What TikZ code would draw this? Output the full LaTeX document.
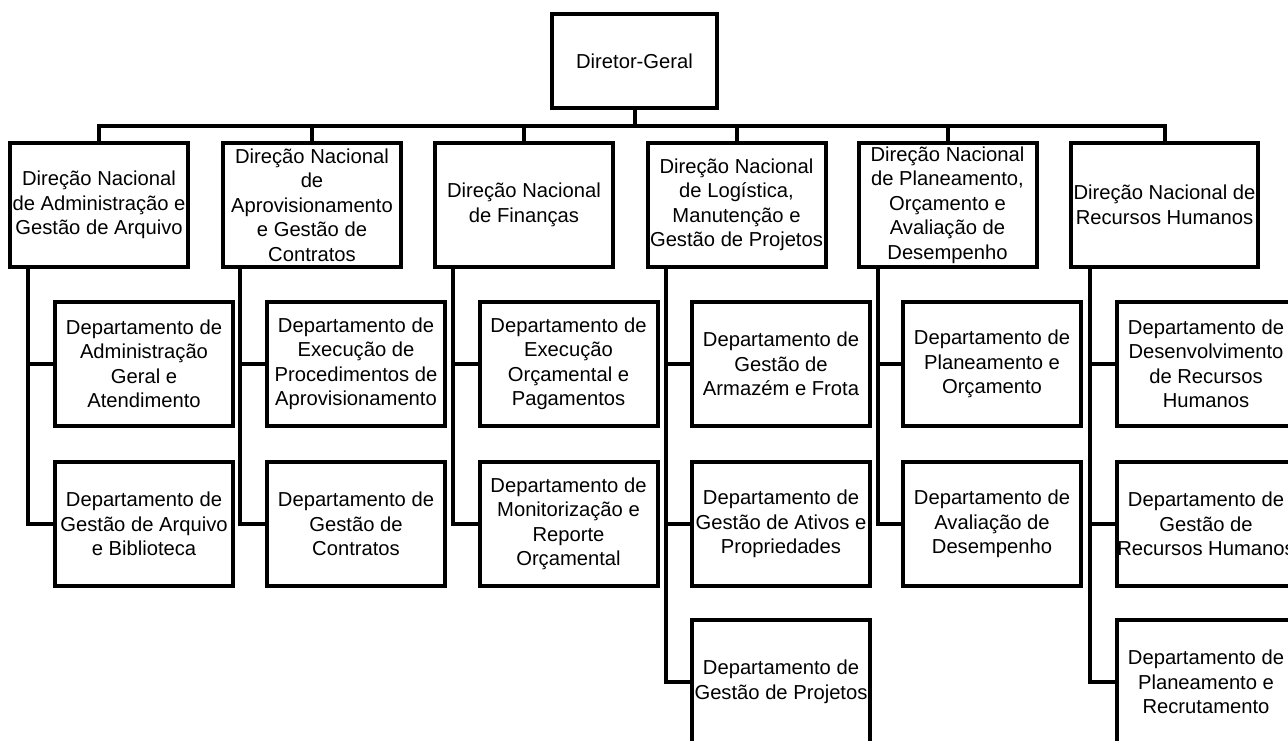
\documentclass[tikz,border=0pt]{standalone}
\usepackage{fontspec}
\setmainfont{Liberation Sans}
\begin{document}
\begin{tikzpicture}[x=1pt,y=-1pt,
  box/.style={draw, line width=4pt, inner sep=0pt, outer sep=0pt,
    minimum width=178pt, minimum height=124pt, align=center,
    font=\fontsize{20.2}{24.5}\selectfont},
  link/.style={line width=4pt, line join=miter}]
\useasboundingbox (0,0) rectangle (1288,740);
\clip (0,0) rectangle (1288,740);

% top level
\node[box, minimum width=165pt, minimum height=94pt] (dg) at (634.5,61) {Diretor-Geral};

% national directorates
\node[box] (b1) at (99,205) {Direção Nacional\\de Administração e\\Gestão de Arquivo};
\node[box] (b2) at (312,205) {Direção Nacional\\de\\Aprovisionamento\\e Gestão de\\Contratos};
\node[box] (b3) at (524,205) {Direção Nacional\\de Finanças};
\node[box] (b4) at (736.5,205) {Direção Nacional\\de Logística,\\Manutenção e\\Gestão de Projetos};
\node[box] (b5) at (947.5,205) {Direção Nacional\\de Planeamento,\\Orçamento e\\Avaliação de\\Desempenho};
\node[box, minimum width=187pt] (b6) at (1164.5,205) {Direção Nacional de\\Recursos Humanos};

% departments
\node[box] (c11) at (144,364) {Departamento de\\Administração\\Geral e\\Atendimento};
\node[box] (c12) at (144,524) {Departamento de\\Gestão de Arquivo\\e Biblioteca};

\node[box] (c21) at (356,364) {Departamento de\\Execução de\\Procedimentos de\\Aprovisionamento};
\node[box] (c22) at (356,524) {Departamento de\\Gestão de\\Contratos};

\node[box] (c31) at (568.5,364) {Departamento de\\Execução\\Orçamental e\\Pagamentos};
\node[box] (c32) at (568.5,524) {Departamento de\\Monitorização e\\Reporte\\Orçamental};

\node[box] (c41) at (781,364) {Departamento de\\Gestão de\\Armazém e Frota};
\node[box] (c42) at (781,524) {Departamento de\\Gestão de Ativos e\\Propriedades};
\node[box] (c43) at (781,682) {Departamento de\\Gestão de Projetos};

\node[box] (c51) at (992,364) {Departamento de\\Planeamento e\\Orçamento};
\node[box] (c52) at (992,524) {Departamento de\\Avaliação de\\Desempenho};

\node[box] (c61) at (1206,364) {Departamento de\\Desenvolvimento\\de Recursos\\Humanos};
\node[box] (c62) at (1206,524) {Departamento de\\Gestão de\\Recursos Humanos};
\node[box] (c63) at (1206,682) {Departamento de\\Planeamento e\\Recrutamento};

% bus under the director
\coordinate (bus) at (634.5,126);
\draw[link] (dg.south) -- (dg.south |- bus);
\draw[link] (b1.north) -- (b1.north |- bus) -- (b6.north |- bus) -- (b6.north);
\foreach \b in {b2,b3,b4,b5}
  \draw[link] (\b.north) -- (\b.north |- bus);

% spines from each directorate to its departments
\draw[link] ([xshift=18pt]b1.south west) |- (c11.west);
\draw[link] ([xshift=18pt]b1.south west) |- (c12.west);
\draw[link] ([xshift=17pt]b2.south west) |- (c21.west);
\draw[link] ([xshift=17pt]b2.south west) |- (c22.west);
\draw[link] ([xshift=18pt]b3.south west) |- (c31.west);
\draw[link] ([xshift=18pt]b3.south west) |- (c32.west);
\draw[link] ([xshift=18pt]b4.south west) |- (c41.west);
\draw[link] ([xshift=18pt]b4.south west) |- (c42.west);
\draw[link] ([xshift=18pt]b4.south west) |- (c43.west);
\draw[link] ([xshift=19pt]b5.south west) |- (c51.west);
\draw[link] ([xshift=19pt]b5.south west) |- (c52.west);
\draw[link] ([xshift=19pt]b6.south west) |- (c61.west);
\draw[link] ([xshift=19pt]b6.south west) |- (c62.west);
\draw[link] ([xshift=19pt]b6.south west) |- (c63.west);
\end{tikzpicture}
\end{document}
